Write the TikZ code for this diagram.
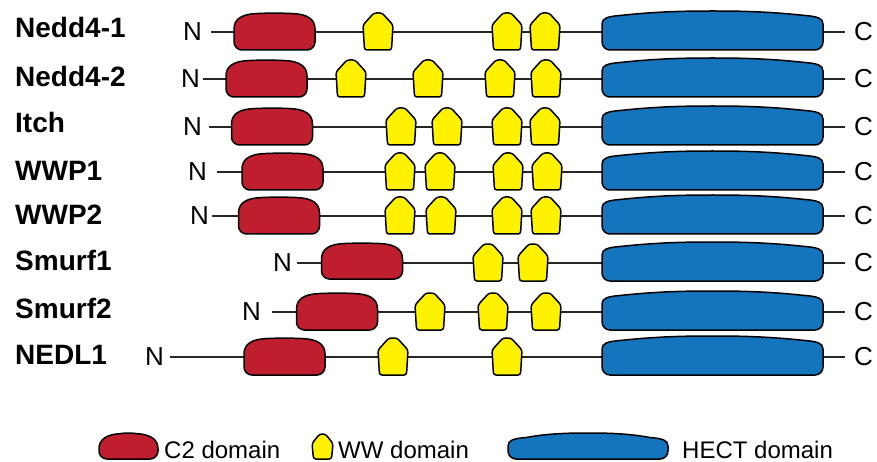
\documentclass[tikz,border=0pt]{standalone}
\usepackage{fontspec}
\setmainfont{Liberation Sans}
\definecolor{ctwocol}{HTML}{BE1E2D}
\definecolor{wwcol}{HTML}{FFF200}
\definecolor{hectcol}{HTML}{1474BC}
\tikzset{
  dom/.style={draw=black, line width=1.5pt, line join=round},
  backbone/.style={draw=black!85, line width=1.4pt},
  lab/.style={anchor=base west, inner sep=0, font=\fontsize{28}{30}\selectfont\bfseries},
  term/.style={anchor=west, inner sep=0, font=\fontsize{26}{28}\selectfont},
  legtext/.style={anchor=base west, inner sep=0, font=\fontsize{24}{26}\selectfont},
  pics/ctwo/.style n args={3}{code={
    \path[dom, fill=ctwocol] (-#1,0) -- (-#1,#3-8) .. controls (-#1,#3-3.6) and (-#1+3.6,#3) .. (-#1+8,#3)
      -- (#1-8,#3) .. controls (#1-3.6,#3) and (#1,#3-3.6) .. (#1,#3-8)
      -- (#1,-#2+16) .. controls (#1,-#2+6) and (#1-8,-#2+1.2) .. (#1-22,-#2+0.6)
      .. controls (#1/4,-#2) and (-#1/4,-#2) .. (-#1+22,-#2+0.6)
      .. controls (-#1+8,-#2+1.2) and (-#1,-#2+6) .. (-#1,-#2+16) -- cycle;
  }},
  pics/hectd/.style n args={3}{code={
    \path[dom, fill=hectcol] (-#1,0) -- (-#1,#3-8) .. controls (-#1,#3-3.6) and (-#1+3.6,#3) .. (-#1+8,#3)
      -- (#1-8,#3) .. controls (#1-3.6,#3) and (#1,#3-3.6) .. (#1,#3-8)
      -- (#1,-#2+13) .. controls (#1,-#2+7) and (#1-6,-#2+5.5) .. (#1-18,-#2+4.5)
      .. controls (#1*0.5,-#2+0.5) and (#1*0.25,-#2) .. (0,-#2)
      .. controls (-#1*0.25,-#2) and (-#1*0.5,-#2+0.5) .. (-#1+18,-#2+4.5)
      .. controls (-#1+6,-#2+5.5) and (-#1,-#2+7) .. (-#1,-#2+13) -- cycle;
  }},
  pics/wwd/.style n args={4}{code={
    \path[dom, fill=wwcol, rounded corners=2.5pt] (-#1+1.5,#3) -- (#1-1.5,#3) -- (#1,-#4)
      -- (#1*0.27,-#2) -- (-#1*0.27,-#2) -- (-#1,-#4) -- cycle;
  }},
}
\begin{document}
\begin{tikzpicture}[x=1pt,y=-1pt]
\useasboundingbox (0,0) rectangle (877,462);

% ---------- Row 1: Nedd4-1 ----------
\node[lab] (l1) at (15,38) {Nedd4-1};
\node[term] (n1) at (183,32) {N};
\node[term] (c1) at (854,32) {C};
\coordinate (s1) at (211,32); \coordinate (e1) at (845,32);
\draw[backbone] (s1) -- (e1);
\pic at (274.5,32) {ctwo={40.5}{19}{18}};
\foreach \x in {378,507,545} \pic at (\x,32) {wwd={15}{19}{18}{7}};
\pic at (712.5,32) {hectd={110.5}{21}{18}};

% ---------- Row 2: Nedd4-2 ----------
\node[lab] (l2) at (15,87) {Nedd4-2};
\node[term] (n2) at (181,79) {N};
\node[term] (c2) at (854,79) {C};
\coordinate (s2) at (203,79); \coordinate (e2) at (845,79);
\draw[backbone] (s2) -- (e2);
\pic at (266.5,79) {ctwo={40.5}{19}{18}};
\foreach \x in {351,428,500,546} \pic at (\x,79) {wwd={15}{19}{18}{7}};
\pic at (712.5,79) {hectd={110.5}{21}{18}};

% ---------- Row 3: Itch ----------
\node[lab] (l3) at (15,133) {Itch};
\node[term] (n3) at (183,127) {N};
\node[term] (c3) at (854,127) {C};
\coordinate (s3) at (209,127); \coordinate (e3) at (845,127);
\draw[backbone] (s3) -- (e3);
\pic at (272,127) {ctwo={40.5}{19}{18}};
\foreach \x in {401,447,507,545} \pic at (\x,127) {wwd={15}{19}{18}{7}};
\pic at (712.5,127) {hectd={110.5}{21}{18}};

% ---------- Row 4: WWP1 ----------
\node[lab] (l4) at (15,181) {WWP1};
\node[term] (n4) at (188,172) {N};
\node[term] (c4) at (854,172) {C};
\coordinate (s4) at (217,172); \coordinate (e4) at (845,172);
\draw[backbone] (s4) -- (e4);
\pic at (282.5,172) {ctwo={40.5}{19}{18}};
\foreach \x in {400,440,508,547} \pic at (\x,172) {wwd={15}{19}{18}{7}};
\pic at (712.5,172) {hectd={110.5}{21}{18}};

% ---------- Row 5: WWP2 ----------
\node[lab] (l5) at (15,225) {WWP2};
\node[term] (n5) at (190,216) {N};
\node[term] (c5) at (854,216) {C};
\coordinate (s5) at (212,216); \coordinate (e5) at (845,216);
\draw[backbone] (s5) -- (e5);
\pic at (279,216) {ctwo={40.5}{19}{18}};
\foreach \x in {400,441,507,546} \pic at (\x,216) {wwd={15}{19}{18}{7}};
\pic at (712.5,216) {hectd={110.5}{21}{18}};

% ---------- Row 6: Smurf1 ----------
\node[lab] (l6) at (15,270) {Smurf1};
\node[term] (n6) at (273,263) {N};
\node[term] (c6) at (854,263) {C};
\coordinate (s6) at (297,263); \coordinate (e6) at (845,263);
\draw[backbone] (s6) -- (e6);
\pic at (362,262) {ctwo={40.5}{19}{17}};
\foreach \x in {488,533} \pic at (\x,263) {wwd={15}{19}{18}{7}};
\pic at (712.5,263) {hectd={110.5}{21}{18}};

% ---------- Row 7: Smurf2 ----------
\node[lab] (l7) at (15,318) {Smurf2};
\node[term] (n7) at (242,312) {N};
\node[term] (c7) at (854,312) {C};
\coordinate (s7) at (272,312); \coordinate (e7) at (845,312);
\draw[backbone] (s7) -- (e7);
\pic at (337,312) {ctwo={40.5}{19}{18}};
\foreach \x in {430,493,546} \pic at (\x,312) {wwd={15}{19}{18}{7}};
\pic at (712.5,312) {hectd={110.5}{21}{18}};

% ---------- Row 8: NEDL1 ----------
\node[lab] (l8) at (15,364) {NEDL1};
\node[term] (n8) at (145,357) {N};
\node[term] (c8) at (854,357) {C};
\coordinate (s8) at (170,357); \coordinate (e8) at (845,357);
\draw[backbone] (s8) -- (e8);
\pic at (284.5,357) {ctwo={40.5}{19}{18}};
\foreach \x in {393,507} \pic at (\x,357) {wwd={15}{19}{18}{7}};
\pic at (712.5,357) {hectd={110.5}{21}{18}};

% ---------- Legend ----------
\pic at (128.5,446) {ctwo={29.5}{13}{13}};
\node[legtext] (lc2) at (164,458) {C2 domain};
\pic at (322.5,446.5) {wwd={10.5}{12.5}{12.5}{3}};
\node[legtext] (lww) at (338,458) {WW domain};
\pic at (588,446) {hectd={80}{13}{13}};
\node[legtext] (lhect) at (682,458) {HECT domain};
\end{tikzpicture}
\end{document}
